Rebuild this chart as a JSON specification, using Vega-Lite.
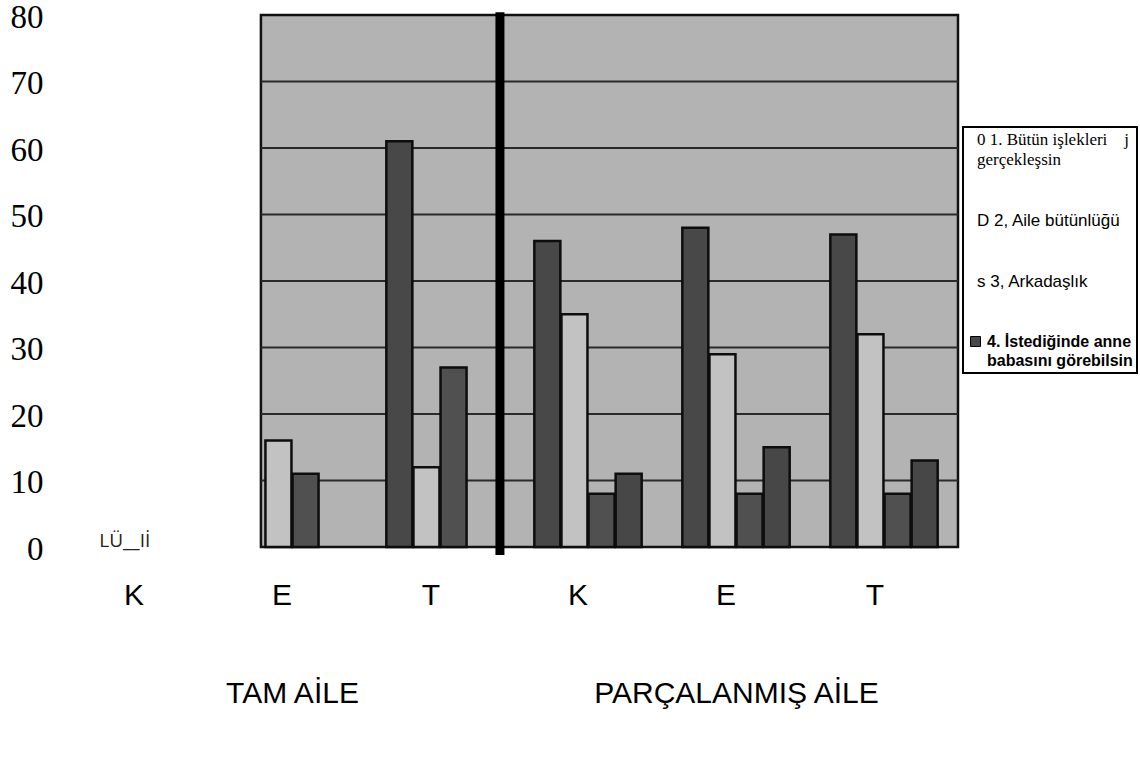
{
  "$schema": "https://vega.github.io/schema/vega-lite/v6.json",
  "autosize": "none",
  "padding": {"left": 70, "top": 15, "right": 182, "bottom": 211},
  "width": 888,
  "height": 532,
  "background": "white",
  "config": {"view": {"stroke": null}, "font": "Liberation Sans"},
  "datasets": {
    "bars": [
      {"group": "E1", "seri": "2", "deger": 16},
      {"group": "E1", "seri": "3", "deger": 11},
      {"group": "T1", "seri": "1", "deger": 61},
      {"group": "T1", "seri": "2", "deger": 12},
      {"group": "T1", "seri": "3", "deger": 27},
      {"group": "K2", "seri": "1", "deger": 46},
      {"group": "K2", "seri": "2", "deger": 35},
      {"group": "K2", "seri": "3", "deger": 8},
      {"group": "K2", "seri": "4", "deger": 11},
      {"group": "E2", "seri": "1", "deger": 48},
      {"group": "E2", "seri": "2", "deger": 29},
      {"group": "E2", "seri": "3", "deger": 8},
      {"group": "E2", "seri": "4", "deger": 15},
      {"group": "T2", "seri": "1", "deger": 47},
      {"group": "T2", "seri": "2", "deger": 32},
      {"group": "T2", "seri": "3", "deger": 8},
      {"group": "T2", "seri": "4", "deger": 13}
    ],
    "bg": [{"group": "E1", "group2": "T2"}],
    "grid": [
      {"group": "E1", "group2": "T2", "v": 10},
      {"group": "E1", "group2": "T2", "v": 20},
      {"group": "E1", "group2": "T2", "v": 30},
      {"group": "E1", "group2": "T2", "v": 40},
      {"group": "E1", "group2": "T2", "v": 50},
      {"group": "E1", "group2": "T2", "v": 60},
      {"group": "E1", "group2": "T2", "v": 70}
    ],
    "sep": [{"group": "T1"}],
    "note": [{"group": "K1", "note": "LÜ__Iİ"}],
    "aile": [{"aile": "TAM AİLE"}, {"aile": "PARÇALANMIŞ AİLE"}]
  },
  "layer": [
    {
      "layer": [
        {
          "data": {"name": "bg"},
          "mark": {"type": "rect", "fill": "#b3b3b3", "stroke": "#111111", "strokeWidth": 2.5},
          "encoding": {
            "x": {"field": "group", "type": "nominal", "bandPosition": 0.29},
            "x2": {"field": "group2", "bandPosition": 1},
            "y": {"datum": 0, "type": "quantitative"},
            "y2": {"datum": 80}
          }
        },
        {
          "data": {"name": "grid"},
          "mark": {"type": "rule", "stroke": "#2a2a2a", "strokeWidth": 2},
          "encoding": {
            "x": {"field": "group", "type": "nominal", "bandPosition": 0.29},
            "x2": {"field": "group2", "bandPosition": 1},
            "y": {"field": "v", "type": "quantitative"}
          }
        },
        {
          "data": {"name": "bars"},
          "mark": {"type": "bar", "stroke": "#0d0d0d", "strokeWidth": 2.5},
          "encoding": {
            "x": {
              "field": "group",
              "type": "nominal",
              "scale": {"domain": ["K1", "E1", "T1", "K2", "E2", "T2"], "paddingInner": 0, "paddingOuter": 0},
              "axis": {
                "orient": "bottom",
                "title": null,
                "labelExpr": "substring(datum.value, 0, 1)",
                "labelAngle": 0,
                "labelFont": "Liberation Sans",
                "labelFontSize": 30,
                "labelColor": "#000000",
                "labelPadding": 48,
                "ticks": false,
                "tickSize": 0,
                "domain": false
              }
            },
            "xOffset": {
              "field": "seri",
              "type": "nominal",
              "scale": {"domain": ["1", "2", "3", "4"], "paddingInner": 0.04, "paddingOuter": 0.75}
            },
            "y": {
              "field": "deger",
              "type": "quantitative",
              "scale": {"domain": [0, 80], "nice": false},
              "axis": {
                "title": null,
                "values": [0, 10, 20, 30, 40, 50, 60, 70, 80],
                "labelFont": "Liberation Serif",
                "labelFontSize": 33,
                "labelColor": "#000000",
                "labelPadding": 27,
                "labelOffset": 2,
                "labelFlush": false,
                "labelOverlap": false,
                "ticks": false,
                "tickSize": 0,
                "domain": false,
                "grid": false
              }
            },
            "color": {
              "field": "seri",
              "type": "nominal",
              "scale": {"domain": ["1", "2", "3", "4"], "range": ["#484848", "#c2c2c2", "#505050", "#474747"]},
              "legend": {
                "orient": "none",
                "legendX": 893,
                "legendY": 112,
                "title": null,
                "direction": "vertical",
                "strokeColor": "#000000",
                "fillColor": "#ffffff",
                "padding": 4,
                "symbolType": "square",
                "symbolSize": 100,
                "symbolStrokeColor": "#000000",
                "symbolStrokeWidth": 1,
                "labelOffset": 3,
                "labelFont": "Liberation Sans",
                "labelFontSize": 17,
                "labelColor": "#000000",
                "labelLimit": 400,
                "rowPadding": 43,
                "labelExpr": "datum.value === '1' ? ['0 1. Bütün işlekleri\u00a0\u00a0\u00a0\u00a0j', '\u00a0\u00a0\u00a0gerçekleşsin'] : datum.value === '2' ? 'D 2, Aile bütünlüğü' : datum.value === '3' ? 's 3, Arkadaşlık' : ['4. İstediğinde anne', 'babasını görebilsin']",
                "encode": {
                  "legend": {"update": {"strokeWidth": {"value": 2}}},
                  "symbols": {"update": {"opacity": {"signal": "datum.value === '4' ? 1 : 0"}}},
                  "labels": {
                    "update": {
                      "font": {"signal": "datum.value === '1' ? 'Liberation Serif' : 'Liberation Sans'"},
                      "fontSize": {"signal": "datum.value === '1' ? 17 : datum.value === '4' ? 16 : 17"},
                      "fontWeight": {"signal": "datum.value === '4' ? 'bold' : 'normal'"},
                      "dx": {"signal": "datum.value === '4' ? 0 : -10"},
                      "lineHeight": {"signal": "datum.value === '1' ? 20 : 19"}
                    }
                  }
                }
              }
            }
          }
        },
        {
          "data": {"name": "sep"},
          "mark": {"type": "rule", "stroke": "#000000", "strokeWidth": 9},
          "encoding": {
            "x": {"field": "group", "type": "nominal", "bandPosition": 0.905},
            "y": {"datum": 80.4, "type": "quantitative"},
            "y2": {"datum": -1.2}
          }
        },
        {
          "data": {"name": "note"},
          "mark": {"type": "text", "font": "Open Sans", "fontSize": 19, "baseline": "alphabetic", "color": "#222222"},
          "encoding": {
            "x": {"field": "group", "type": "nominal", "bandPosition": 0.37},
            "y": {"datum": 0, "type": "quantitative"},
            "text": {"field": "note"}
          }
        }
      ]
    },
    {
      "data": {"name": "aile"},
      "mark": {"type": "text", "opacity": 0},
      "encoding": {
        "x": {
          "field": "aile",
          "type": "nominal",
          "scale": {"domain": ["TAM AİLE", "PARÇALANMIŞ AİLE"], "paddingInner": 0, "paddingOuter": 0},
          "axis": {
            "orient": "bottom",
            "title": null,
            "labelAngle": 0,
            "labelFont": "Liberation Sans",
            "labelFontSize": 30,
            "labelColor": "#000000",
            "labelPadding": 131,
            "labelLimit": 500,
            "ticks": false,
            "tickSize": 0,
            "domain": false
          }
        },
        "text": {"field": "aile"}
      }
    }
  ],
  "resolve": {"scale": {"x": "independent"}, "axis": {"x": "independent"}}
}
